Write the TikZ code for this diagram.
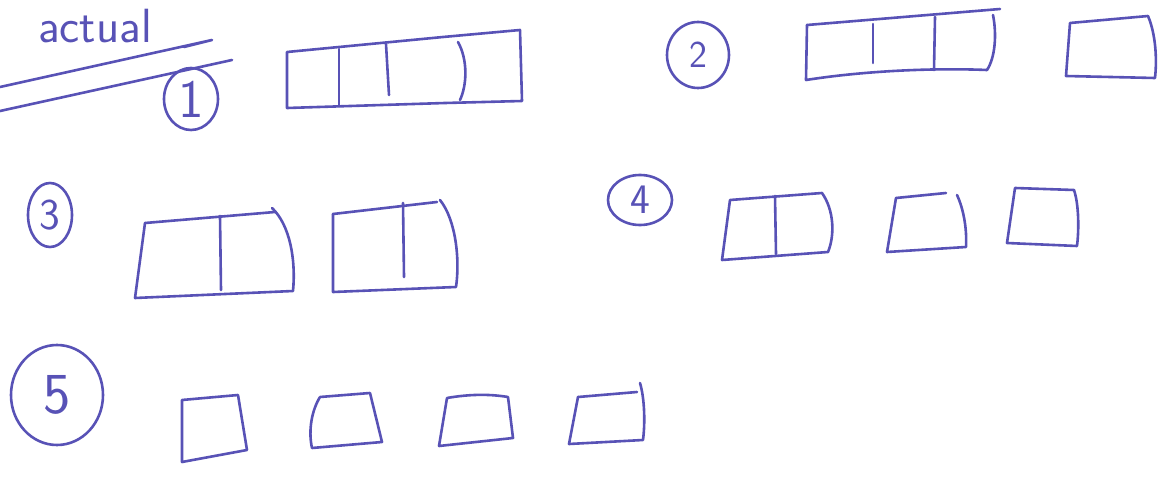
\documentclass[tikz,border=0pt]{standalone}
\usepackage{fontspec}
\usetikzlibrary{shapes.geometric}
\definecolor{ink}{RGB}{88,82,182}
\begin{document}
\begin{tikzpicture}[x=1pt,y=-1pt,
  pen/.style={draw=ink,line width=2.6pt,line cap=round,line join=round},
  num/.style={ellipse,draw=ink,line width=2.6pt,inner sep=0pt,text=ink,font=\sffamily},
  lbl/.style={text=ink,font=\sffamily}]
\useasboundingbox (0,0) rectangle (1168,484);
% title
\node[lbl,font=\sffamily\fontsize{48}{48}\selectfont,inner sep=0pt] (title) at (95,26) {actual};
\coordinate (u1a) at (0,87);
\coordinate (u1b) at (212,40);
\coordinate (u2a) at (0,111);
\coordinate (u2b) at (232,60);
\draw[pen] (u1a) -- (u1b) -- (184,47);
\draw[pen] (u2a) -- (u2b);
% circled numbers
\node[num,minimum width=54pt,minimum height=62pt,font=\sffamily\fontsize{54}{54}\selectfont] (c1) at (191,99) {1};
\node[num,minimum width=62pt,minimum height=66pt,font=\sffamily\fontsize{38}{38}\selectfont] (c2) at (698,55) {2};
\node[num,minimum width=44pt,minimum height=64pt,font=\sffamily\fontsize{44}{44}\selectfont] (c3) at (50,215) {3};
\node[num,minimum width=64pt,minimum height=50pt,font=\sffamily\fontsize{42}{42}\selectfont] (c4) at (640,200) {4};
\node[num,minimum width=92pt,minimum height=100pt,font=\sffamily\fontsize{58}{58}\selectfont] (c5) at (57,395) {5};
% row 1
\draw[pen] (287,52) -- (443,37) -- (520,30) -- (522,101) -- (445,103) -- (287,108) -- cycle;
\draw[pen] (339,49) -- (339,106);
\draw[pen] (386,44) -- (389,95);
\draw[pen] (458,42) .. controls (468,60) and (467,85) .. (460,100);
% row 1 right
\draw[pen] (807,25) -- (1000,9);
\draw[pen] (807,25) -- (806,80) .. controls (870,70) and (940,68) .. (987,70);
\draw[pen] (873,24) -- (873,63);
\draw[pen] (935,17) -- (934,70);
\draw[pen] (993,15) .. controls (997,35) and (995,58) .. (987,70);
\draw[pen] (1070,23) -- (1148,16) .. controls (1156,35) and (1157,60) .. (1155,78) -- (1066,76) -- cycle;
% row 2
\draw[pen] (145,223) -- (275,212);
\draw[pen] (272,208) .. controls (290,225) and (296,260) .. (293,291) -- (135,298) -- (145,223);
\draw[pen] (220,216) -- (221,290);
\draw[pen] (333,214) -- (437,202);
\draw[pen] (440,200) .. controls (456,220) and (460,260) .. (456,287) -- (333,292) -- (333,214);
\draw[pen] (403,203) -- (404,277);
\draw[pen] (730,200) -- (822,193) .. controls (834,210) and (835,235) .. (828,252) -- (722,260) -- cycle;
\draw[pen] (775,196) -- (776,254);
\draw[pen] (896,198) -- (946,193);
\draw[pen] (957,195) .. controls (964,210) and (967,230) .. (966,247) -- (887,252) -- (896,198);
\draw[pen] (1015,188) -- (1074,190) .. controls (1079,205) and (1079,230) .. (1077,246) -- (1007,243) -- cycle;
% row 3
\draw[pen] (182,400) -- (238,395) -- (247,450) -- (182,462) -- cycle;
\draw[pen] (320,397) -- (370,393) -- (382,442) -- (312,448) .. controls (308,430) and (312,410) .. (320,397);
\draw[pen] (447,398) .. controls (470,394) and (490,394) .. (508,397) -- (513,438) -- (439,446) -- cycle;
\draw[pen] (578,397) -- (637,392);
\draw[pen] (640,383) .. controls (645,400) and (645,425) .. (643,440) -- (569,444) -- (578,397);
\end{tikzpicture}
\end{document}
